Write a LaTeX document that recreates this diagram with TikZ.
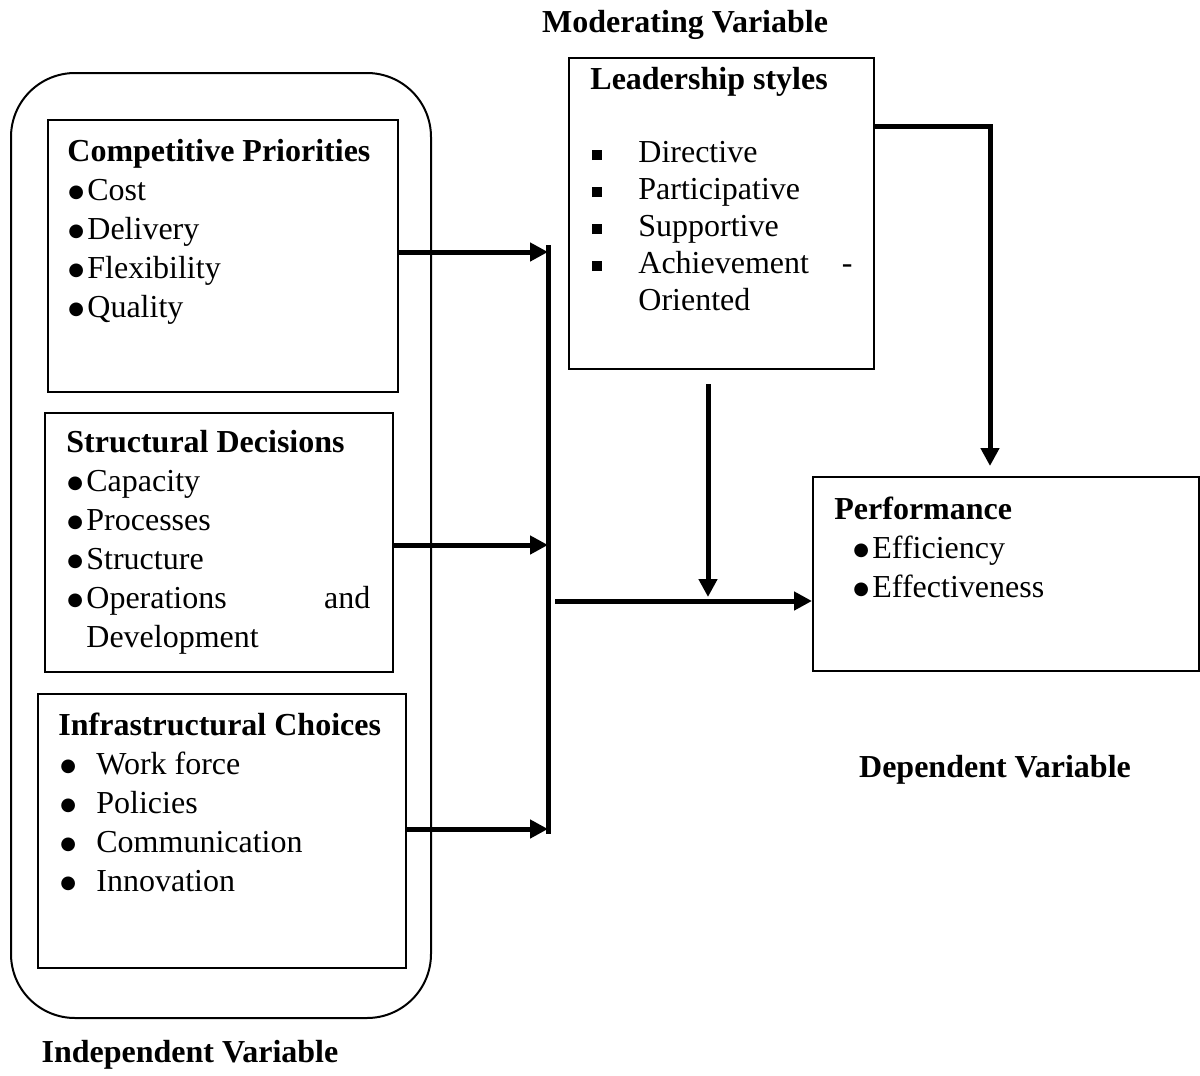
\documentclass[tikz,border=0pt]{standalone}
\usepackage{fontspec}
\setmainfont{Liberation Serif}
\newfontfamily\symfont{DejaVu Sans}
\usepackage{tikz}
\usetikzlibrary{calc, positioning, arrows.meta}

\newcommand{\bigdot}{\raisebox{1.8pt}{\symfont\fontsize{9}{10}\selectfont ●}}
\newcommand{\bl}{\hspace*{0.5pt}\makebox[9.5pt][l]{\bigdot}}
\newcommand{\blw}{\hspace*{1pt}\makebox[18pt][l]{\bigdot}}
\newcommand{\sqb}{\hspace*{1pt}\makebox[23pt][l]{\rule[1.2pt]{5pt}{5pt}}}

\tikzset{
  varbox/.style={draw, line width=1pt, anchor=north west, inner sep=0pt},
  boxtext/.style={anchor=north west, align=left, inner sep=0pt, font=\fontsize{16}{19.5}\selectfont},
  varlabel/.style={font=\fontsize{16}{19.5}\selectfont\bfseries},
  arr/.style={-{Triangle[length=9pt,width=9pt]}, line width=2.5pt}
}

\begin{document}
\begin{tikzpicture}[x=0.5pt, y=-0.5pt]
\useasboundingbox (0,0) rectangle (1200,1076);
% nodes %
\node[varbox, rounded corners=32pt, minimum width=210pt, minimum height=472.5pt] (iv) at (10,72) {};
\node[varbox, minimum width=175pt, minimum height=136pt] (cp) at (47,119) {};
\node[varbox, minimum width=174pt, minimum height=129.5pt] (sd) at (44,412) {};
\node[varbox, minimum width=184pt, minimum height=137pt] (ic) at (37,693) {};
\node[varbox, minimum width=152.5pt, minimum height=155.5pt] (ls) at (568,57) {};
\node[varbox, minimum width=193pt, minimum height=97pt] (pf) at (812,476) {};
% texts %
\node[boxtext] (cptext) at (67,139) {\textbf{Competitive Priorities}\\
  \bl Cost\\ \bl Delivery\\ \bl Flexibility\\ \bl Quality};
\node[boxtext] (sdtext) at (66,430) {\textbf{Structural Decisions}\\
  \bl Capacity\\ \bl Processes\\ \bl Structure\\
  \bl\makebox[142pt][l]{Operations\hfill and}\\ \hspace*{10pt}Development};
\node[boxtext] (ictext) at (58,713) {\textbf{Infrastructural Choices}\\
  \blw Work force\\ \blw Policies\\ \blw Communication\\ \blw Innovation};
\node[boxtext, font=\fontsize{16}{18.5}\selectfont] (lstext) at (590,67) {\textbf{Leadership styles}\\[18pt]
  \sqb Directive\\ \sqb Participative\\ \sqb Supportive\\
  \sqb\makebox[107pt][l]{Achievement\hfill -}\\ \hspace*{24pt}Oriented};
\node[boxtext] (pftext) at (834,497) {\textbf{Performance}\\
  \hspace*{9.5pt}\makebox[9.5pt][l]{\bigdot}Efficiency\\
  \hspace*{9.5pt}\makebox[9.5pt][l]{\bigdot}Effectiveness};
% labels %
\node[varlabel] (mv) at (685,25) {Moderating Variable};
\node[varlabel] (dv) at (995,770) {Dependent Variable};
\node[varlabel] (ivl) at (190,1055) {Independent Variable};
% points %
\coordinate (bustop) at (548,245);
\coordinate (busbot) at (548,834);
\coordinate (junc) at (555,601);
\coordinate (lsfoot) at (708,384);
\coordinate (lsexit) at (873,126);
\coordinate (pfentry) at (990,476);
% edges %
\draw[line width=2.5pt] (bustop) -- (busbot);
\draw[arr] (cp.east |- 0,252) -- (bustop |- 0,252);
\draw[arr] (sd.east |- 0,545) -- (bustop |- 0,545);
\draw[arr] (ic.east |- 0,829) -- (bustop |- 0,829);
\draw[arr] (junc) -- (junc -| pf.west);
\draw[arr, shorten >=2pt] (lsfoot) -- (lsfoot |- junc);
\draw[arr, shorten >=5pt] (lsexit) -| (pfentry);
\end{tikzpicture}
\end{document}
